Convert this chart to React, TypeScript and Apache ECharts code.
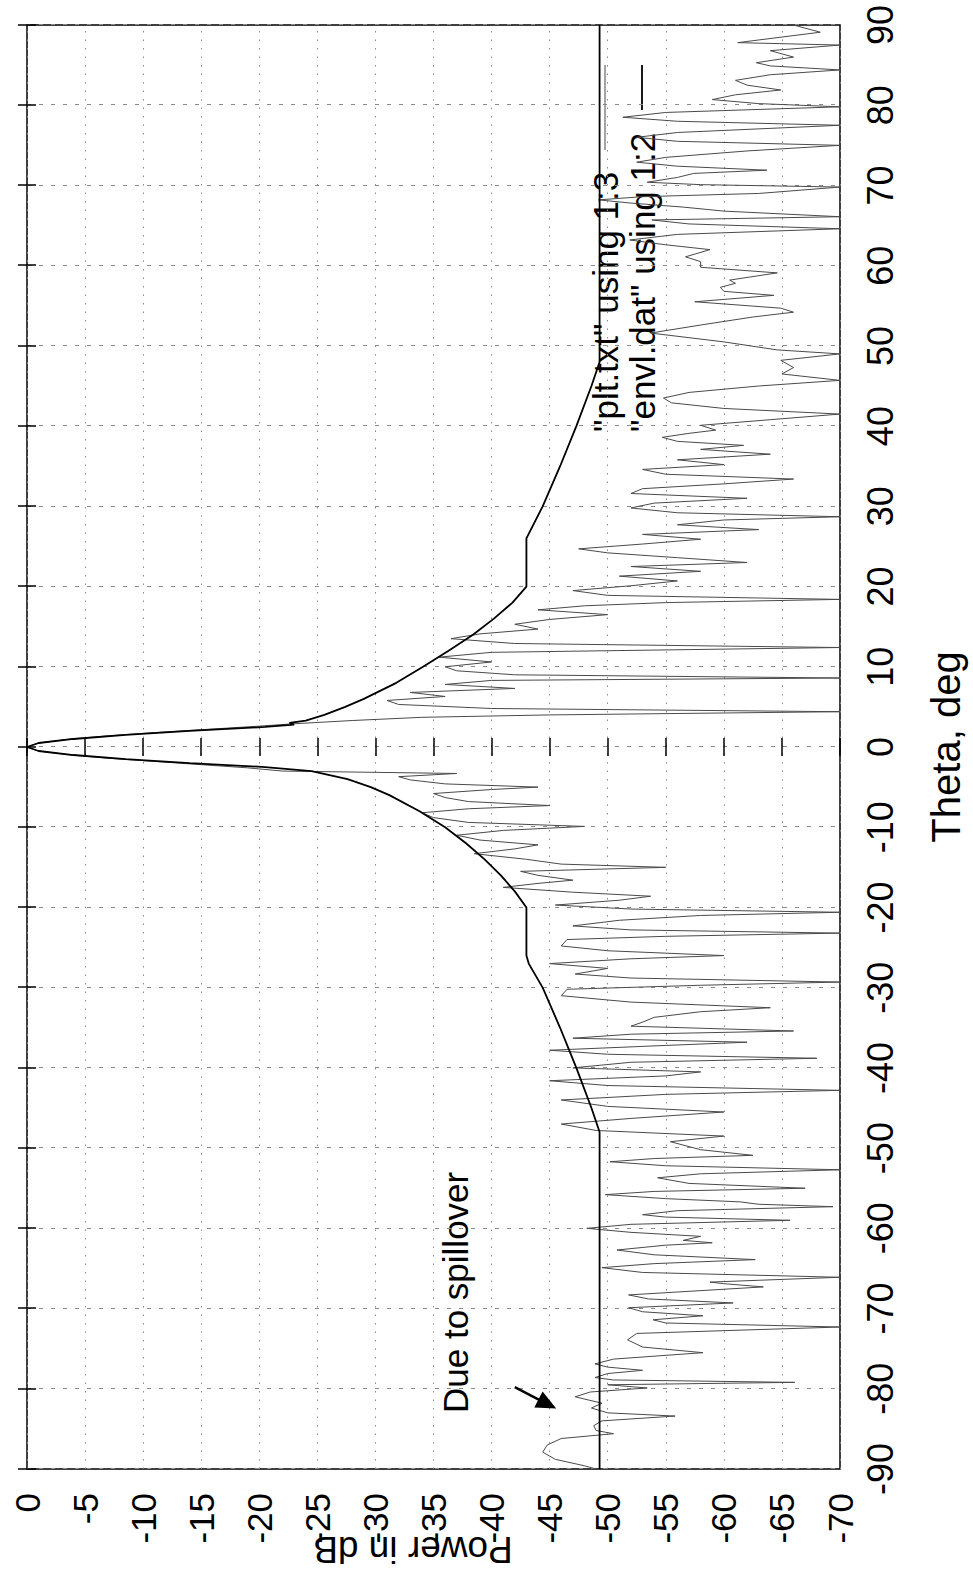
import React, { useEffect, useRef } from "react";
import * as echarts from "echarts";

// ---- DATA ----
const thetaRange = [-90, 90];
const powerRange = [-70, 0];
const seriesNames = ['"plt.txt" using 1:3', '"envl.dat" using 1:2'];
const axisNames = { theta: "Theta, deg", power: "Power in dB" };
const annotationText = "Due to spillover";

// plt.txt (theta deg, power dB)
const pltFarNeg: [number, number][] = [
  [-90, -49], [-89.6, -48], [-88.8, -45.5], [-87.9, -44.4], [-87.0, -44.8], [-86.2, -46], [-85.6, -50.5], [-85.2, -49],
  [-84.6, -48.8], [-84.0, -49.5], [-83.4, -55.8], [-83.0, -50], [-82.4, -48.6], [-81.8, -49.5], [-81.0, -47.2],
  [-80.4, -48.5], [-79.9, -53.4], [-79.5, -50], [-79.2, -66.1], [-78.9, -50.5], [-78.6, -48.9], [-78.1, -50],
  [-77.7, -53], [-77.3, -50], [-76.9, -48.9], [-76.3, -50.5], [-75.5, -58.2], [-74.8, -53], [-73.9, -51.7],
  [-73.1, -52.5], [-72.3, -70], [-71.8, -55], [-71.4, -53.9], [-70.9, -58.2], [-70.4, -53], [-69.9, -51.8],
  [-69.3, -60.8], [-68.8, -53.5], [-68.3, -51.8], [-67.3, -63.4], [-66.9, -60], [-66.7, -58.8], [-66.1, -70],
  [-65.5, -53], [-64.9, -49.5], [-64.4, -54], [-63.9, -62.7], [-63.3, -54], [-62.7, -50.8], [-62.1, -55],
  [-61.8, -59], [-61.5, -56.5], [-61.0, -58], [-60.5, -52], [-60.0, -48.2], [-59.5, -52], [-59.0, -65.7],
  [-58.6, -55], [-58.3, -53], [-57.8, -56], [-57.3, -69.4], [-57.0, -63], [-56.7, -61.4], [-56.3, -55],
  [-55.8, -49.8], [-55.4, -54], [-55.0, -67], [-54.4, -57], [-53.7, -54.3], [-53.2, -58], [-52.7, -70],
  [-52.2, -55], [-51.7, -50.2], [-51.3, -54], [-50.9, -62.5], [-50.2, -58], [-49.2, -55.4],
];
const pltNearNeg: [number, number][] = [
  [-48.5, -60], [-47.8, -49], [-47.0, -46], [-46.3, -52], [-45.5, -60], [-44.8, -50], [-44.0, -46], [-43.3, -55],
  [-42.8, -70], [-42.2, -50], [-41.6, -45], [-41.0, -55], [-40.5, -58], [-40.0, -47], [-39.3, -52], [-38.8, -68],
  [-38.3, -50], [-37.8, -45], [-37.2, -55], [-36.8, -62], [-36.3, -47], [-35.8, -52], [-35.4, -66], [-34.8, -52],
  [-34.3, -53], [-33.7, -54], [-33.0, -58], [-32.5, -64], [-31.8, -52], [-31.0, -46], [-30.2, -46.5], [-29.7, -58],
  [-29.3, -70], [-28.8, -52], [-28.3, -47.2], [-27.6, -50], [-27.0, -45], [-26.4, -52], [-26.0, -60], [-25.4, -50],
  [-24.8, -46], [-24.0, -46.5], [-23.6, -55], [-23.2, -70], [-22.8, -52], [-22.3, -47], [-21.6, -51], [-21.0, -58],
  [-20.6, -70], [-20.2, -52], [-19.7, -45.5], [-19.1, -51], [-18.6, -53.7], [-18.1, -47], [-17.5, -41], [-17.0, -44],
  [-16.6, -47], [-16.0, -44], [-15.5, -42.5], [-15.0, -55], [-14.6, -46], [-14.0, -43], [-13.3, -38.5], [-12.7, -42],
  [-12.2, -44], [-11.6, -39], [-11.0, -37], [-10.4, -41], [-9.9, -48], [-9.4, -38], [-8.8, -35], [-8.2, -34],
  [-7.7, -38], [-7.3, -45], [-6.8, -38], [-6.3, -36], [-5.8, -35], [-5.3, -40], [-5.0, -44], [-4.6, -36],
  [-4.1, -33], [-3.7, -32], [-3.3, -37],
];
const pltMainLobe: [number, number][] = [
  [-3.0, -22], [-2.6, -19], [-2.2, -15], [-1.8, -11], [-1.4, -7], [-1.0, -3.8], [-0.5, -1], [0, 0], [0.5, -1],
  [1.0, -3.8], [1.4, -7], [1.8, -11], [2.2, -15.5], [2.6, -20], [2.9, -23],
];
const pltNearPos: [number, number][] = [
  [3.3, -28], [3.7, -34], [4.0, -45], [4.4, -70], [4.8, -40], [5.3, -32], [5.8, -31], [6.3, -36], [6.8, -33],
  [7.3, -42], [7.8, -36], [8.3, -40], [8.6, -70], [9.0, -42], [9.5, -37], [10.0, -36], [10.6, -40], [11.2, -35.5],
  [11.8, -40], [12.4, -70], [12.9, -42], [13.5, -36.5], [14.1, -39], [14.7, -44], [15.3, -42], [15.9, -45],
  [16.5, -50], [17.1, -44], [17.6, -48], [18.0, -55], [18.4, -70], [18.9, -50], [19.5, -47], [20.1, -52],
  [20.7, -56], [21.3, -51], [21.9, -58], [22.5, -52], [23.0, -62], [23.6, -56], [24.2, -50], [24.7, -47.5],
  [25.3, -53], [25.9, -58], [26.5, -53], [27.1, -63], [27.7, -56], [28.3, -60], [28.7, -70], [29.2, -56],
  [29.8, -52], [30.4, -54], [31.0, -62], [31.6, -52], [32.2, -53], [32.8, -60], [33.4, -66], [34.0, -55],
  [34.6, -53], [35.2, -60], [35.8, -56], [36.5, -64], [37.1, -58], [37.6, -61.7], [38.1, -56], [38.6, -54.7],
  [39.1, -57], [39.5, -59.3], [40.1, -58], [40.8, -64], [41.5, -70], [42.2, -60], [42.9, -55.5], [43.5, -54.8],
  [44.2, -57], [45.0, -63], [45.7, -70], [46.5, -65], [47.3, -66], [48.2, -64.9],
];
const pltFarPos: [number, number][] = [
  [49.0, -70], [49.5, -64.6], [50.5, -60], [51.6, -53.7], [52.6, -58], [53.6, -62.5], [54.2, -66], [54.7, -64.9],
  [55.5, -57.5], [56.3, -64.3], [56.8, -60], [57.3, -59.7], [57.8, -61], [58.2, -60.5], [59.1, -64.6], [59.8, -58],
  [60.5, -58], [61.1, -56.7], [62.0, -58.8], [62.6, -55], [63.2, -51.9], [63.9, -56], [64.6, -70], [65.2, -57],
  [65.7, -53.8], [66.1, -70], [66.8, -60], [67.3, -56.5], [67.8, -52], [68.2, -49.2], [68.6, -53], [69.0, -63],
  [69.8, -70], [70.1, -58], [70.4, -53.4], [71.0, -56], [71.5, -57.4], [71.9, -63.7], [72.4, -56], [72.9, -52.5],
  [73.5, -55], [74.3, -62], [75.0, -70], [75.5, -56], [76.0, -52.5], [76.6, -56], [77.5, -70], [78.0, -56],
  [78.5, -51.3], [79.1, -55], [79.8, -70], [80.2, -63], [80.7, -59], [81.3, -61], [81.9, -64.9], [82.5, -62],
  [83.1, -61], [83.8, -64], [84.4, -70], [84.9, -64], [85.3, -62.8], [86.0, -66], [86.8, -64], [87.5, -70],
  [87.8, -61.2], [88.5, -65], [89.1, -68.3], [90, -66],
];

// envl.dat (theta deg, power dB)
const envTheta = [
  -90, -48, -45, -40, -35, -30, -27, -26, -20, -18, -16, -14, -12, -10, -8, -6, -5, -4, -3, -2.5, -2, -1.5, -1, -0.5,
  0, 0.5, 1, 1.5, 2, 2.5, 2.8, 3.0, 3.3, 4, 5, 6, 8, 10, 12, 14, 16, 18, 20, 26, 30, 35, 40, 45, 48, 90,
];
const envPower = [
  -49.3, -49.3, -48.6, -47.3, -45.9, -44.4, -43.2, -43.0, -43.0, -42.0, -40.8, -39.4, -37.8, -36.0, -33.8, -31.2,
  -29.6, -27.6, -24.5, -20.5, -14, -8.5, -4, -1, 0, -1, -4, -8.5, -14, -20.5, -23, -22.6, -24, -25.6, -27.4, -29,
  -31.8, -34.1, -36.3, -38.4, -40.2, -41.8, -43, -43, -44.4, -45.9, -47.3, -48.6, -49.3, -49.3,
];

// annotation arrow (tail -> head), in data units
const arrowTail: [number, number] = [-79.8, -42.0];
const arrowHead: [number, number] = [-81.9, -44.8];

const FONT = "'Liberation Sans', Arial, Helvetica, sans-serif";
const W = 1576;
const H = 973;

export default function App() {
  const ref = useRef<HTMLDivElement>(null);
  useEffect(() => {
    if (!ref.current) return;
    const chart = echarts.init(ref.current, null, { renderer: "svg", width: W, height: H });
    const pltData = [...pltFarNeg, ...pltNearNeg, ...pltMainLobe, ...pltNearPos, ...pltFarPos];
    const envData = envTheta.map((t, i) => [t, envPower[i]]);
    const thetaGrid = { color: "#8a8a8a", type: [4, 8] as any, width: 1 };
    const powerGrid = { color: "#8a8a8a", type: [1.5, 7] as any, width: 1 };
    const tickStyle = { color: "#000", width: 1.5 };
    const legendText = (i: number, y: number) => ({
      type: "text", x: 1144, y,
      style: { text: seriesNames[i], fontSize: 35, fontFamily: FONT, fill: "#000", align: "left", verticalAlign: "middle" },
    });
    chart.setOption({
      animation: false,
      backgroundColor: "#fff",
      textStyle: { fontFamily: FONT },
      grid: {
        left: 107, right: 25, top: 27, bottom: 133, show: true, borderColor: "#000", borderWidth: 1.5,
        outerBoundsMode: "none", containLabel: false,
      },
      xAxis: [
        {
          type: "value", min: thetaRange[0], max: thetaRange[1], interval: 10, position: "bottom",
          axisLine: { show: false },
          axisTick: { inside: true, length: 9, lineStyle: tickStyle },
          axisLabel: { color: "#000", fontSize: 36, margin: 22, fontFamily: FONT },
          splitLine: { show: true, lineStyle: thetaGrid },
          name: axisNames.theta, nameLocation: "middle", nameGap: 86,
          nameTextStyle: { fontSize: 40, color: "#000", fontFamily: FONT },
        },
        {
          type: "value", min: thetaRange[0], max: thetaRange[1], interval: 10, position: "top",
          axisLine: { show: false }, axisTick: { inside: true, length: 9, lineStyle: tickStyle },
          axisLabel: { show: false }, splitLine: { show: false },
        },
      ],
      yAxis: [
        {
          type: "value", min: powerRange[0], max: powerRange[1], interval: 5, position: "left",
          axisLine: { show: false },
          axisTick: { inside: true, length: 9, lineStyle: tickStyle },
          axisLabel: { color: "#000", fontSize: 35, margin: 24, fontFamily: FONT },
          splitLine: { show: true, lineStyle: powerGrid },
        },
        {
          type: "value", min: powerRange[0], max: powerRange[1], interval: 5, position: "right",
          axisLine: { show: false }, axisTick: { inside: true, length: 9, lineStyle: tickStyle },
          axisLabel: { show: false }, splitLine: { show: false },
        },
      ],
      series: [
        {
          name: seriesNames[0], type: "line", data: pltData, symbol: "none", xAxisIndex: 0, yAxisIndex: 0,
          lineStyle: { color: "#4a4a4a", width: 1 }, itemStyle: { color: "#4a4a4a" }, z: 3,
          markLine: {
            silent: true, symbol: ["none", "triangle"], symbolSize: [18, 20],
            lineStyle: { color: "#000", width: 2.5, type: "solid" }, label: { show: false },
            data: [[{ coord: arrowTail }, { coord: arrowHead }]],
          },
        },
        {
          name: seriesNames[1], type: "line", data: envData, symbol: "none", xAxisIndex: 0, yAxisIndex: 0,
          lineStyle: { color: "#000", width: 1.8 }, itemStyle: { color: "#000" }, z: 4,
        },
      ],
      graphic: [
        {
          type: "text", x: 163, y: 455,
          style: { text: annotationText, fontSize: 35, fontFamily: FONT, fill: "#000", align: "left", verticalAlign: "middle" },
        },
        {
          type: "text", x: 27, y: 413, rotation: Math.PI / 2,
          style: { text: axisNames.power, fontSize: 37, fontFamily: FONT, fill: "#000", align: "center", verticalAlign: "middle" },
        },
        legendText(0, 605),
        legendText(1, 642),
        { type: "line", shape: { x1: 1426, y1: 605, x2: 1511, y2: 605 }, style: { stroke: "#4a4a4a", lineWidth: 1 } },
        { type: "line", shape: { x1: 1466, y1: 642, x2: 1511, y2: 642 }, style: { stroke: "#000", lineWidth: 1.8 } },
      ],
    });
    return () => chart.dispose();
  }, []);

  return (
    <div style={{ position: "absolute", left: 0, top: 0, width: 973, height: 1576, overflow: "hidden", background: "#fff" }}>
      <div
        style={{
          position: "absolute", left: 0, top: 0, width: W, height: H,
          transformOrigin: "0 0", transform: `translateY(${W}px) rotate(-90deg)`,
        }}
      >
        <div ref={ref} style={{ width: W, height: H }} />
      </div>
    </div>
  );
}
